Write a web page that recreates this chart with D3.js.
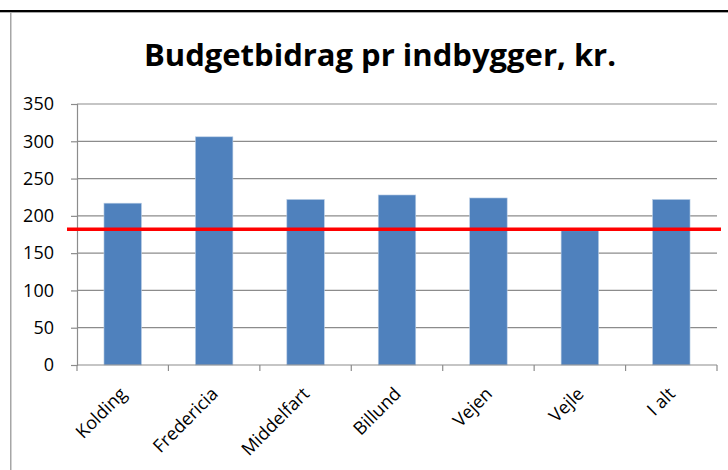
<!DOCTYPE html>
<html>
<head>
<meta charset="utf-8">
<script src="https://cdn.jsdelivr.net/npm/d3@7"></script>
<style>
  body { margin: 0; background: #fff; }
  text { font-family: "Open Sans", sans-serif; fill: #000; }
</style>
</head>
<body>
<svg id="chart"></svg>
<script>
// Budgetbidrag pr indbygger, bar chart with a red reference line

const categories = ["Kolding", "Fredericia", "Middelfart", "Billund", "Vejen", "Vejle", "I alt"];
const values = [217, 306, 222, 228, 224, 180, 222];
const yTicks = [0, 50, 100, 150, 200, 250, 300, 350];
const referenceValue = 182;

const width = 728, height = 470;
const margin = { top: 104, right: 11, bottom: 105, left: 77 };

const svg = d3.select("#chart")
    .attr("width", width)
    .attr("height", height);

// frame of the pasted chart
svg.append("rect").attr("x", 0).attr("y", 10).attr("width", width).attr("height", 2.3).attr("fill", "#000");
svg.append("rect").attr("x", 10).attr("y", 12).attr("width", width - 10).attr("height", 1).attr("fill", "#a6a6a6");
svg.append("rect").attr("x", 10).attr("y", 12).attr("width", 1.5).attr("height", height - 12).attr("fill", "#a6a6a6");

svg.append("text")
    .attr("x", 380)
    .attr("y", 66)
    .attr("text-anchor", "middle")
    .style("font-size", "31px")
    .style("font-weight", "bold")
    .text("Budgetbidrag pr indbygger, kr.");

const x = d3.scaleBand()
    .domain(categories)
    .range([margin.left, width - margin.right])
    .paddingInner(0.59)
    .paddingOuter(0.295);

const y = d3.scaleLinear()
    .domain([0, 350])
    .range([height - margin.bottom, margin.top]);

// gridlines
svg.append("g")
    .selectAll("line")
    .data(yTicks.filter(d => d > 0))
    .enter().append("line")
    .attr("x1", margin.left)
    .attr("x2", width - margin.right)
    .attr("y1", d => y(d))
    .attr("y2", d => y(d))
    .attr("stroke", "#8c8c8c")
    .attr("stroke-width", 1.2);

// y axis
const yAxis = svg.append("g")
    .attr("transform", `translate(${margin.left},0)`)
    .call(d3.axisLeft(y).tickValues(yTicks).tickSize(6).tickPadding(17));
yAxis.selectAll("line, path").attr("stroke", "#8c8c8c").attr("stroke-width", 1.2);
yAxis.selectAll("text").style("font-size", "18px").style("font-family", "Open Sans");

// bars
svg.append("g")
    .selectAll("rect")
    .data(values)
    .enter().append("rect")
    .attr("x", (d, i) => x(categories[i]))
    .attr("y", d => y(d))
    .attr("width", x.bandwidth())
    .attr("height", d => y(0) - y(d))
    .attr("fill", "#4f81bd")
    .attr("stroke", "#b9cde5")
    .attr("stroke-width", 0.6);

// x axis with ticks between categories
const step = x.step();
const xBoundaries = d3.range(categories.length + 1).map(i => margin.left + i * step);
const xAxis = svg.append("g");
xAxis.append("line")
    .attr("x1", margin.left).attr("x2", width - margin.right)
    .attr("y1", y(0)).attr("y2", y(0))
    .attr("stroke", "#8c8c8c").attr("stroke-width", 1.2);
xAxis.selectAll("line.tick")
    .data(xBoundaries)
    .enter().append("line")
    .attr("class", "tick")
    .attr("x1", d => d).attr("x2", d => d)
    .attr("y1", y(0)).attr("y2", y(0) + 6)
    .attr("stroke", "#8c8c8c").attr("stroke-width", 1.2);
xAxis.selectAll("text")
    .data(categories)
    .enter().append("text")
    .attr("text-anchor", "end")
    .attr("transform", d => `translate(${x(d) + x.bandwidth() / 2 + 5},${y(0) + 30}) rotate(-45)`)
    .style("font-size", "18px")
    .text(d => d);

// red reference line
svg.append("line")
    .attr("x1", 67)
    .attr("x2", 721)
    .attr("y1", y(referenceValue))
    .attr("y2", y(referenceValue))
    .attr("stroke", "#ff0000")
    .attr("stroke-width", 3.5);
</script>
</body>
</html>
